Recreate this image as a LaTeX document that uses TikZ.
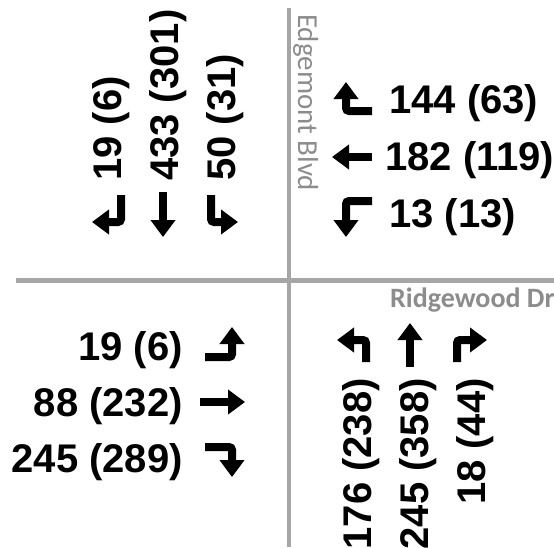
\documentclass[tikz,border=0pt]{standalone}
\usepackage{fontspec}
\newfontfamily\numfont{Liberation Sans}
\newfontfamily\lblfont{Carlito}
\usetikzlibrary{arrows.meta}
\definecolor{roadgray}{HTML}{A6A6A6}
\definecolor{labelgray}{HTML}{8C8C8C}
\tikzset{
  vol/.style={font=\numfont\bfseries\fontsize{40}{40}\selectfont, inner sep=0pt},
  mv/.style={line width=8pt, -{Triangle[width=24pt,length=17pt]}, rounded corners=3pt},
  road/.style={line width=4.5pt, draw=roadgray},
  street/.style={text=labelgray, inner sep=0pt, font=\lblfont\fontsize{29}{29}\selectfont}
}
\begin{document}
\begin{tikzpicture}[x=1pt,y=-1pt]
\useasboundingbox (0,0) rectangle (554,547);
% roads
\coordinate (vtop) at (289,8);
\coordinate (vbot) at (289,547);
\coordinate (hleft) at (16,280.5);
\coordinate (hright) at (554,280.5);
\draw[road] (vtop) -- (vbot);
\draw[road] (hleft) -- (hright);
% street names
\node[street, rotate=-90, anchor=base west] (edg) at (298,14) {Edgemont Blvd};
\node[street, anchor=base west, font=\lblfont\bfseries\fontsize{28}{28}\selectfont] (rdg) at (390,307) {Ridgewood Dr};
% NW (southbound)
\node[vol, rotate=90, anchor=base west] (nw1) at (121,181) {19 (6)};
\node[vol, rotate=90, anchor=base west] (nw2) at (178,181) {433 (301)};
\node[vol, rotate=90, anchor=base west] (nw3) at (235,181) {50 (31)};
\draw[mv] (121,195) -- (121,222) -- (92,222);
\draw[mv] (163,192) -- (163,237);
\draw[mv] (211,195) -- (211,222) -- (238,222);
% NE (westbound)
\node[vol, anchor=base west] (ne1) at (389,113) {144 (63)};
\node[vol, anchor=base west] (ne2) at (385,170) {182 (119)};
\node[vol, anchor=base west] (ne3) at (389,227) {13 (13)};
\draw[mv] (372,111) -- (346,111) -- (346,82);
\draw[mv] (372,157) -- (332,157);
\draw[mv] (372,201) -- (346,201) -- (346,237);
% SW (eastbound)
\node[vol, anchor=base east] (sw1) at (183,360) {19 (6)};
\node[vol, anchor=base east] (sw2) at (183,416) {88 (232)};
\node[vol, anchor=base east] (sw3) at (183,472) {245 (289)};
\draw[mv] (205,357) -- (232,357) -- (232,327);
\draw[mv] (200,402) -- (245,402);
\draw[mv] (205,447) -- (232,447) -- (232,477);
% SE (northbound)
\node[vol, rotate=90, anchor=base east] (se1) at (371,378) {176 (238)};
\node[vol, rotate=90, anchor=base east] (se2) at (428,378) {245 (358)};
\node[vol, rotate=90, anchor=base east] (se3) at (485,378) {18 (44)};
\draw[mv] (366,362) -- (366,340) -- (337,340);
\draw[mv] (410,367) -- (410,323);
\draw[mv] (457,362) -- (457,340) -- (487,340);
\end{tikzpicture}
\end{document}
